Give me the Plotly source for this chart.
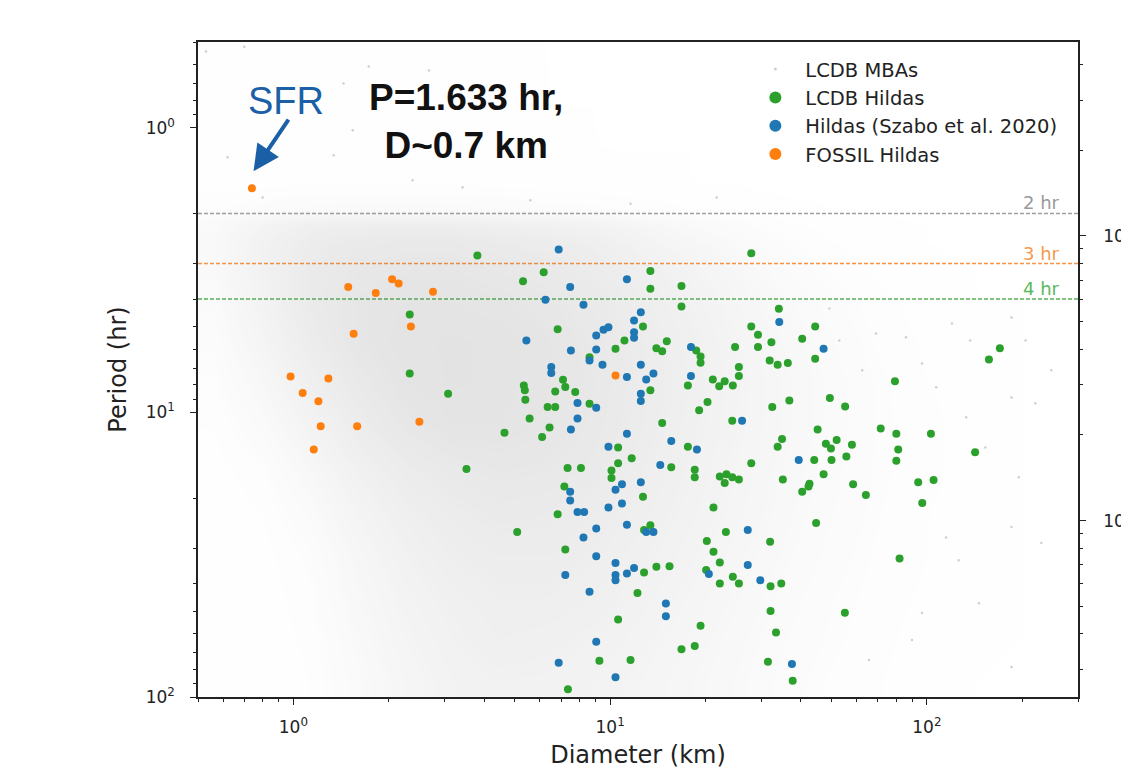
import math
import plotly.graph_objects as go

# Axis limits
D_LIM = [0.5, 300]      # diameter, km
P_LIM = [0.5, 100]      # period, hr

# Background LCDB main-belt population: relative point density on a log10 grid
mba_logd = [-0.25, -0.1, 0.05, 0.2, 0.35, 0.5, 0.65, 0.8, 0.95, 1.1, 1.25, 1.4,
            1.55, 1.7, 1.85, 2.0, 2.15, 2.3, 2.45]
mba_logp = [-0.22, -0.07, 0.08, 0.2, 0.28, 0.34, 0.40, 0.5, 0.6, 0.75, 0.9, 1.05,
            1.2, 1.35, 1.5, 1.65, 1.8, 1.95]
mba_density = [
    [0.01, 0.01, 0.01, 0.01, 0.01, 0.01, 0.01, 0.01, 0, 0, 0, 0, 0, 0, 0, 0, 0, 0, 0],
    [0.01, 0.02, 0.02, 0.02, 0.02, 0.02, 0.01, 0.01, 0.01, 0, 0, 0, 0, 0, 0, 0, 0, 0, 0],
    [0.02, 0.03, 0.03, 0.03, 0.03, 0.03, 0.02, 0.02, 0.01, 0.01, 0.01, 0, 0, 0, 0, 0, 0, 0, 0],
    [0.03, 0.04, 0.05, 0.05, 0.05, 0.05, 0.04, 0.03, 0.02, 0.02, 0.01, 0.01, 0, 0, 0, 0, 0, 0, 0],
    [0.08, 0.12, 0.16, 0.18, 0.18, 0.17, 0.15, 0.12, 0.10, 0.07, 0.05, 0.03, 0.02, 0.01, 0, 0, 0, 0, 0],
    [0.18, 0.35, 0.50, 0.55, 0.55, 0.55, 0.50, 0.45, 0.40, 0.30, 0.20, 0.12, 0.06, 0.03, 0.02, 0.01, 0, 0, 0],
    [0.20, 0.42, 0.60, 0.68, 0.70, 0.70, 0.65, 0.60, 0.52, 0.40, 0.28, 0.18, 0.10, 0.05, 0.03, 0.01, 0, 0, 0],
    [0.20, 0.42, 0.65, 0.75, 0.80, 0.80, 0.75, 0.70, 0.62, 0.50, 0.38, 0.25, 0.15, 0.08, 0.04, 0.02, 0.01, 0, 0],
    [0.16, 0.40, 0.66, 0.80, 0.85, 0.85, 0.82, 0.76, 0.68, 0.56, 0.44, 0.30, 0.20, 0.12, 0.06, 0.03, 0.01, 0.01, 0],
    [0.12, 0.34, 0.60, 0.80, 0.88, 0.90, 0.88, 0.82, 0.72, 0.60, 0.48, 0.35, 0.24, 0.15, 0.08, 0.04, 0.02, 0.01, 0],
    [0.08, 0.25, 0.50, 0.70, 0.85, 0.90, 0.88, 0.82, 0.74, 0.62, 0.50, 0.37, 0.26, 0.17, 0.10, 0.05, 0.03, 0.01, 0],
    [0.05, 0.16, 0.38, 0.60, 0.76, 0.85, 0.85, 0.80, 0.72, 0.60, 0.48, 0.36, 0.26, 0.17, 0.10, 0.06, 0.03, 0.01, 0],
    [0.03, 0.08, 0.25, 0.46, 0.62, 0.72, 0.76, 0.74, 0.68, 0.56, 0.45, 0.34, 0.24, 0.16, 0.10, 0.06, 0.03, 0.01, 0],
    [0.02, 0.05, 0.16, 0.36, 0.52, 0.62, 0.68, 0.66, 0.60, 0.52, 0.42, 0.32, 0.22, 0.15, 0.09, 0.05, 0.03, 0.01, 0],
    [0.01, 0.03, 0.10, 0.28, 0.44, 0.55, 0.60, 0.60, 0.55, 0.47, 0.38, 0.28, 0.20, 0.13, 0.08, 0.05, 0.02, 0.01, 0],
    [0.01, 0.02, 0.08, 0.24, 0.38, 0.48, 0.54, 0.54, 0.50, 0.42, 0.34, 0.25, 0.17, 0.11, 0.07, 0.04, 0.02, 0.01, 0],
    [0.01, 0.02, 0.06, 0.20, 0.34, 0.44, 0.50, 0.48, 0.44, 0.38, 0.30, 0.22, 0.15, 0.10, 0.06, 0.03, 0.02, 0.01, 0],
    [0.01, 0.01, 0.05, 0.17, 0.30, 0.40, 0.44, 0.43, 0.40, 0.34, 0.27, 0.20, 0.13, 0.08, 0.05, 0.03, 0.01, 0, 0],
]

# Isolated LCDB MBAs outside the dense cloud
mba_d = [0.53, 0.70, 0.62, 1.34, 1.44, 1.73, 1.54, 2.38, 3.42, 0.80, 2.68, 21.7, 11.6, 5.60,
         49.2, 69.1, 85.9, 120, 137, 185, 205, 247, 96.5, 62.5, 107, 133, 185, 220, 153, 195,
         230, 185, 146, 185, 89.7, 65.7, 115, 126, 96.5, 52.9]
mba_p = [0.54, 0.52, 1.27, 1.25, 0.70, 0.61, 1.02, 1.53, 1.62, 1.76, 0.63, 1.76, 1.85, 1.80,
         4.32, 5.28, 5.45, 4.87, 5.59, 4.64, 5.59, 7.12, 6.73, 7.12, 8.17, 10.4, 8.86, 9.30, 13.3, 16.9,
         28.8, 25.3, 46.8, 78.5, 63.1, 74.1, 27.5, 33.1, 50.7, 5.59]

# LCDB Hildas
lcdb_hilda_d = [3.81, 2.33, 2.33, 3.08, 3.52, 27.9, 6.17, 13.4, 5.31, 13.4, 16.8, 16.8, 34.1, 6.83,
                12.7, 11.1, 15.1, 10.4, 14.0, 14.6, 27.9, 29.3, 24.8, 29.3, 32.3, 18.7, 19.3, 19.3,
                8.61, 31.9, 33.8, 36.4, 25.5, 25.5, 21.1, 22.1, 23.0, 24.4, 17.6, 5.34, 5.38, 7.10,
                7.22, 6.71, 7.76, 13.4, 5.40, 8.61, 6.35, 6.71, 20.3, 19.1, 32.5, 36.8, 5.57, 24.3,
                14.6, 6.44, 6.10, 4.64, 34.9, 33.8, 10.6, 17.6, 11.7, 10.6, 27.9, 7.34, 8.09, 15.6,
                10.1, 10.1, 18.5, 18.5, 22.2, 23.3, 24.3, 25.5, 23.0, 35.1, 7.17, 12.7, 21.2, 6.83,
                5.09, 12.8, 13.4, 23.2, 20.2, 32.0, 21.2, 7.22, 22.2, 14.0, 15.4, 12.8, 20.1, 24.4,
                25.5, 22.2, 32.1, 34.7, 12.2, 32.1, 10.6, 19.3, 33.4, 16.8, 18.5, 9.25, 11.6, 31.5,
                7.36, 37.7, 44.4, 40.4, 44.4, 157, 170, 79.3, 49.4, 55.2, 45.2, 71.5, 80.1, 103,
                48.0, 49.8, 51.9, 58.0, 81.2, 142, 44.1, 50.0, 55.7, 80.1, 47.2, 42.6, 40.4, 42.3,
                58.5, 64.2, 93.9, 105, 96.7, 44.7, 82.0, 55.1]
lcdb_hilda_p = [2.81, 4.53, 7.31, 8.60, 15.8, 2.76, 3.22, 3.19, 3.46, 3.68, 3.60, 4.25, 4.33, 5.11,
                4.99, 5.59, 5.63, 5.98, 5.95, 6.10, 4.99, 5.34, 5.90, 5.90, 5.67, 6.06, 6.36, 6.69,
                6.40, 6.57, 6.80, 6.71, 6.93, 7.46, 7.66, 8.09, 7.77, 8.04, 8.04, 8.04, 8.37, 7.68,
                8.15, 8.44, 8.49, 8.37, 9.03, 9.32, 9.58, 9.58, 9.20, 9.84, 9.58, 9.08, 10.5, 10.7,
                10.9, 11.3, 12.2, 11.8, 12.4, 13.2, 13.3, 13.2, 14.5, 15.1, 15.1, 15.7, 15.7, 15.6,
                16.0, 17.0, 15.9, 16.9, 16.8, 16.5, 16.9, 17.2, 17.7, 17.2, 18.2, 19.8, 21.6, 22.8,
                26.3, 25.9, 24.9, 26.3, 28.3, 28.5, 30.9, 30.3, 33.7, 34.9, 34.7, 36.5, 35.8, 37.8,
                39.9, 39.9, 40.8, 39.9, 43.1, 49.9, 53.4, 56.2, 59.3, 68.0, 66.2, 74.6, 74.1, 75.2,
                94.0, 87.7, 4.99, 5.51, 6.48, 6.52, 5.95, 7.77, 8.91, 9.53, 11.5, 11.4, 11.9, 11.9,
                12.9, 13.4, 12.5, 13.0, 13.5, 13.8, 14.7, 14.7, 14.3, 14.8, 16.5, 17.8, 19.0, 18.2,
                17.9, 19.5, 17.6, 17.3, 20.8, 24.5, 32.6, 50.6]

# Hildas from Szabo et al. (2020)
szabo_d = [6.88, 11.3, 7.48, 6.25, 8.24, 12.5, 11.9, 9.88, 9.53, 9.04, 11.9, 11.9, 5.44, 18.0,
           9.04, 7.52, 8.61, 9.46, 12.5, 6.52, 6.52, 11.3, 13.0, 13.7, 18.0, 12.5, 12.5, 7.89,
           9.04, 7.89, 7.52, 11.3, 15.6, 9.88, 18.8, 14.4, 34.2, 26.1, 12.5, 10.9, 10.4, 7.48,
           7.48, 9.88, 10.9, 7.89, 8.28, 11.3, 9.04, 13.0, 13.7, 8.24, 27.2, 9.04, 10.4, 10.4,
           10.4, 11.3, 11.9, 7.22, 20.5, 27.2, 29.8, 8.61, 15.0, 15.0, 9.04, 6.88, 10.4, 47.2,
           39.4, 37.5]
szabo_p = [2.68, 3.41, 3.63, 4.02, 4.19, 4.45, 4.76, 5.02, 5.13, 5.37, 5.23, 5.47, 5.59, 5.90,
           6.01, 6.06, 6.57, 6.80, 6.80, 6.93, 7.28, 7.52, 7.66, 7.31, 7.46, 8.60, 9.12, 9.27,
           9.63, 10.5, 11.5, 11.9, 12.6, 13.2, 13.5, 15.3, 4.82, 10.7, 17.6, 17.9, 18.7, 19.0,
           20.4, 21.6, 20.9, 22.4, 22.4, 24.8, 25.6, 26.3, 26.3, 27.5, 25.9, 32.0, 33.8, 37.3,
           38.9, 36.8, 35.2, 37.3, 37.0, 34.4, 38.9, 42.7, 46.9, 52.0, 64.0, 75.8, 85.3, 5.98,
           14.7, 76.6]

# FOSSIL Hildas
fossil_d = [0.74, 1.49, 1.82, 2.05, 2.15, 2.76, 2.35, 1.55, 0.98, 1.29, 1.07, 1.20, 1.22, 1.59,
            2.50, 1.16, 10.4]
fossil_p = [1.633, 3.63, 3.81, 3.41, 3.53, 3.77, 4.99, 5.30, 7.48, 7.60, 8.56, 9.15, 11.2, 11.2,
            10.8, 13.5, 7.43]

# Reference spin periods (hr)
spin_lines = [2, 3, 4]
spin_labels = ["2 hr", "3 hr", "4 hr"]
spin_colors = ["rgba(150,150,150,0.9)", "rgba(250,140,50,0.9)", "rgba(70,170,70,0.9)"]
spin_text_colors = ["#9a9a9a", "#f59a50", "#5cb85c"]

GREEN = "#2ca02c"
BLUE = "#1f77b4"
ORANGE = "#ff7f0e"
MBA_GRAY = "#cfcfcf"
FONT = "DejaVu Sans"

fig = go.Figure()

fig.add_trace(go.Heatmap(
    x=[10 ** v for v in mba_logd], y=[10 ** v for v in mba_logp], z=mba_density,
    zmin=0, zmax=1, zsmooth="best", showscale=False, hoverinfo="skip",
    colorscale=[[0, "rgba(100,100,100,0)"], [1, "rgba(100,100,100,0.2)"]],
))

series = [
    ("LCDB MBAs", mba_d, mba_p, MBA_GRAY, 2.5, 3),
    ("LCDB Hildas", lcdb_hilda_d, lcdb_hilda_p, GREEN, 8, 12),
    ("Hildas (Szabo et al. 2020)", szabo_d, szabo_p, BLUE, 8, 12),
    ("FOSSIL Hildas", fossil_d, fossil_p, ORANGE, 8, 12),
]
for name, xs, ys, color, size, _ in series:
    fig.add_trace(go.Scatter(
        x=xs, y=ys, mode="markers", name=name, legendgroup=name, showlegend=False,
        marker=dict(color=color, size=size, line=dict(width=0)),
    ))
# legend entries with enlarged symbols
for name, _, _, color, _, lsize in series:
    fig.add_trace(go.Scatter(
        x=[None], y=[None], mode="markers", name=name, legendgroup=name,
        marker=dict(color=color, size=lsize, line=dict(width=0)),
    ))

# right-hand axis: rotation frequency (cycles/day) = 24 / period
fig.add_trace(go.Scatter(x=[], y=[], yaxis="y2", showlegend=False, hoverinfo="skip"))

for p, lab, lc, tc in zip(spin_lines, spin_labels, spin_colors, spin_text_colors):
    fig.add_shape(type="line", xref="x domain", x0=0, x1=1, yref="y", y0=p, y1=p,
                  line=dict(color=lc, width=1.5, dash="4px,2px"), layer="below")
    fig.add_annotation(xref="x domain", x=0.982, yref="y", y=math.log10(p),
                       text=lab, showarrow=False, xanchor="right", yanchor="bottom",
                       font=dict(family=FONT, size=18, color=tc), yshift=-2)

fig.add_annotation(xref="paper", yref="paper", x=0.3045, y=0.879,
                   text="<b>P=1.633 hr,<br>D~0.7 km</b>", showarrow=False,
                   font=dict(family="Liberation Sans", size=37, color="#111"),
                   xanchor="center", yanchor="middle", align="center")
fig.add_annotation(xref="paper", yref="paper", x=0.1, y=0.91, text="SFR",
                   showarrow=False, xanchor="center", yanchor="middle",
                   font=dict(family="Liberation Sans", size=38, color="#1b5fa6"))
fig.add_annotation(xref="x", yref="y", x=math.log10(fossil_d[0]) + 0.005,
                   y=math.log10(fossil_p[0]) - 0.06, text="", showarrow=True,
                   axref="pixel", ayref="pixel", ax=36, ay=-53,
                   arrowhead=2, arrowsize=1.3, arrowwidth=4, arrowcolor="#1b5fa6")

tick_font = dict(family=FONT, size=17, color="#222")
axis_line = dict(showline=True, linecolor="#222", linewidth=1.5)

fig.update_layout(
    width=1121, height=776,
    margin=dict(l=198, r=43, t=42, b=79, autoexpand=False),
    paper_bgcolor="white", plot_bgcolor="white",
    font=dict(family=FONT, color="#222"),
    showlegend=True,
    legend=dict(x=0.622, y=0.988, xanchor="left", yanchor="top",
                bgcolor="rgba(255,255,255,0.85)", borderwidth=0,
                font=dict(family=FONT, size=19.5, color="#222"),
                itemwidth=50, traceorder="normal"),
    xaxis=dict(type="log", range=[math.log10(D_LIM[0]), math.log10(D_LIM[1])],
               tickmode="array", tickvals=[1, 10, 100],
               ticktext=["10<sup>0</sup>", "10<sup>1</sup>", "10<sup>2</sup>"],
               ticks="outside", ticklen=6, tickwidth=1.3, tickcolor="#222",
               minor=dict(ticks="outside", ticklen=3.5, tickwidth=1, tickcolor="#222",
                          dtick="D1", showgrid=False),
               showgrid=False, zeroline=False, mirror=True, tickfont=tick_font,
               ticklabelstandoff=8, automargin=False,
               title=dict(text="Diameter (km)", font=dict(family=FONT, size=24, color="#222"),
                          standoff=10),
               **axis_line),
    yaxis=dict(type="log", range=[math.log10(P_LIM[1]), math.log10(P_LIM[0])],
               tickmode="array", tickvals=[1, 10, 100],
               ticktext=["10<sup>0</sup>", "10<sup>1</sup>", "10<sup>2</sup>"],
               ticks="outside", ticklen=6, tickwidth=1.3, tickcolor="#222",
               minor=dict(ticks="outside", ticklen=3.5, tickwidth=1, tickcolor="#222",
                          dtick="D1", showgrid=False),
               showgrid=False, zeroline=False, mirror=True, tickfont=tick_font,
               ticklabelstandoff=12, automargin=False,
               title=dict(text="Period (hr)", font=dict(family=FONT, size=24, color="#222"),
                          standoff=12),
               **axis_line),
    yaxis2=dict(type="log", overlaying="y", side="right", anchor="x",
                range=[math.log10(24 / P_LIM[1]), math.log10(24 / P_LIM[0])],
                tickmode="array", tickvals=[1, 10],
                ticktext=["10<sup>0</sup>", "10<sup>1</sup>"],
                ticks="outside", ticklen=6, tickwidth=1.3, tickcolor="#222",
                minor=dict(ticks="outside", ticklen=3.5, tickwidth=1, tickcolor="#222",
                           dtick="D1", showgrid=False),
                showgrid=False, zeroline=False, tickfont=tick_font,
                ticklabelstandoff=14, automargin=False, **axis_line),
)

fig.write_html("out.html")
